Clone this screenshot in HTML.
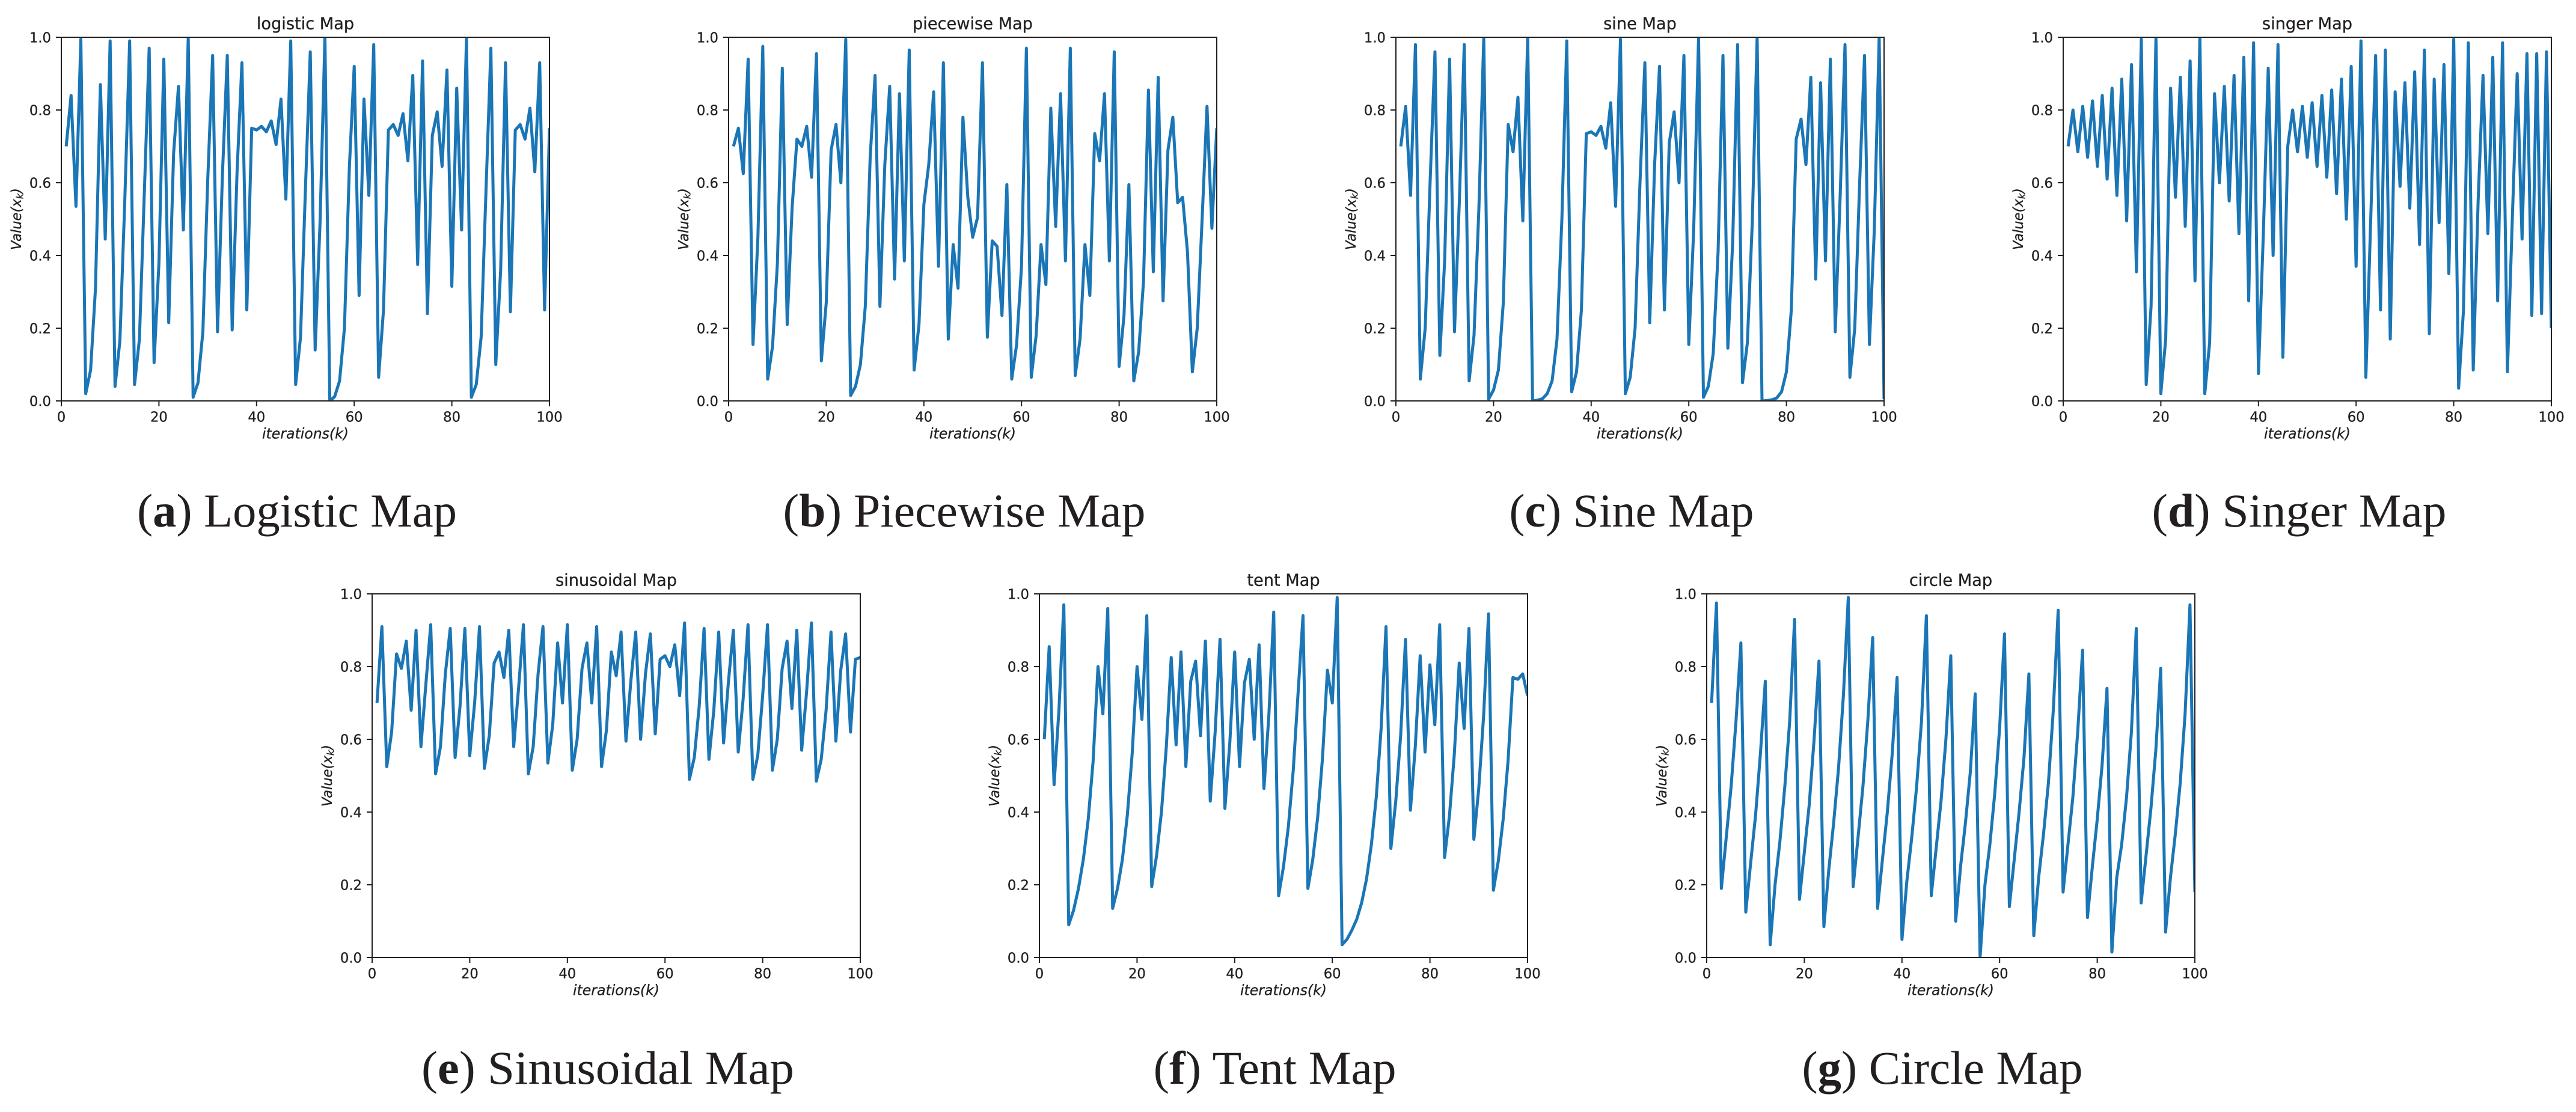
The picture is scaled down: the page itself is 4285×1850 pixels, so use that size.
<!DOCTYPE html>
<html lang="en">
<head>
<meta charset="utf-8">
<title>Chaotic Maps</title>
<style>
html,body{margin:0;padding:0;background:#fff;width:4285px;height:1850px;overflow:hidden}
svg{display:block}
.sans{font-family:"DejaVu Sans",sans-serif;fill:#231f20;stroke:#231f20;stroke-width:.3px}
.caption{font-family:"Liberation Serif",serif;fill:#231f20;font-size:78px}
</style>
</head>
<body>
<svg id="figure" xmlns="http://www.w3.org/2000/svg" width="4285" height="1850" viewBox="0 0 4285 1850"></svg>
<script>
const xTickValues = [0, 20, 40, 60, 80, 100];
const yTickValues = [0.0, 0.2, 0.4, 0.6, 0.8, 1.0];
const yTickLabels = ['0.0', '0.2', '0.4', '0.6', '0.8', '1.0'];

const logisticValues = [.70,.84,.535,.995,.02,.085,.31,.87,.445,.99,
.04,.165,.55,.99,.045,.17,.57,.97,.105,.38,
.94,.215,.68,.865,.47,1.0,.01,.05,.19,.61,
.95,.19,.62,.95,.195,.63,.93,.25,.75,.745,
.755,.74,.77,.705,.83,.555,.99,.045,.175,.58,
.96,.14,.49,1.0,.0,.012,.055,.2,.64,.92,
.29,.83,.565,.98,.065,.25,.745,.76,.73,.79,
.66,.895,.375,.935,.24,.73,.795,.645,.91,.315,
.86,.47,1.0,.01,.045,.175,.58,.97,.10,.36,
.93,.245,.745,.76,.72,.805,.63,.93,.25,.75];

const piecewiseValues = [.70,.75,.625,.94,.155,.45,.975,.06,.15,.38,
.915,.21,.53,.72,.70,.755,.615,.955,.11,.27,
.69,.76,.60,.995,.015,.04,.10,.26,.67,.895,
.26,.65,.865,.335,.845,.385,.965,.085,.21,.54,
.65,.85,.37,.93,.17,.43,.31,.78,.56,.45,
.505,.93,.175,.44,.425,.235,.595,.06,.155,.37,
.97,.065,.18,.43,.32,.805,.48,.845,.385,.97,
.07,.17,.43,.29,.735,.66,.845,.385,.96,.095,
.235,.595,.055,.135,.33,.855,.355,.89,.275,.69,
.78,.545,.56,.41,.08,.20,.50,.81,.475,.75];

const sineValues = [.70,.81,.565,.98,.06,.20,.60,.96,.125,.39,
.94,.19,.55,.98,.055,.18,.53,1.0,.005,.03,
.085,.27,.76,.685,.835,.495,1.0,.0,.002,.006,
.02,.055,.17,.50,.99,.025,.08,.25,.735,.74,
.73,.755,.695,.82,.535,.995,.02,.065,.20,.60,
.93,.215,.65,.92,.25,.71,.795,.60,.95,.155,
.47,1.0,.01,.04,.13,.41,.95,.145,.44,.98,
.05,.16,.49,1.0,.0,.001,.003,.008,.025,.08,
.25,.72,.775,.65,.89,.335,.875,.385,.94,.19,
.56,.98,.065,.20,.60,.95,.155,.47,1.0,.005];

const singerValues = [.70,.80,.685,.81,.67,.825,.645,.84,.61,.86,
.565,.885,.495,.925,.355,.995,.045,.26,1.0,.02,
.17,.86,.56,.89,.48,.935,.33,1.0,.02,.16,
.845,.60,.865,.55,.895,.46,.945,.275,.985,.075,
.46,.915,.40,.98,.12,.70,.80,.685,.81,.67,
.82,.645,.84,.615,.855,.57,.885,.50,.92,.37,
.99,.065,.50,.95,.25,.965,.17,.85,.59,.875,
.53,.905,.43,.965,.185,.885,.49,.925,.35,.995,
.035,.25,.985,.085,.55,.895,.46,.945,.275,.985,
.08,.50,.90,.445,.955,.235,.955,.24,.96,.20];

const sinusoidalValues = [.70,.91,.525,.62,.835,.795,.87,.68,.90,.58,
.75,.915,.505,.58,.78,.905,.55,.69,.905,.555,
.70,.91,.52,.61,.81,.84,.77,.90,.58,.74,
.915,.505,.58,.78,.91,.535,.64,.865,.70,.915,
.515,.60,.795,.865,.70,.91,.525,.625,.84,.775,
.895,.595,.76,.895,.60,.78,.89,.615,.82,.83,
.80,.86,.72,.92,.49,.55,.69,.905,.545,.68,
.895,.59,.76,.90,.565,.71,.915,.49,.555,.72,
.915,.515,.60,.795,.87,.685,.90,.57,.73,.92,
.485,.545,.68,.895,.595,.79,.89,.62,.82,.825];

const tentValues = [.60,.855,.475,.68,.97,.09,.13,.19,.27,.38,
.54,.80,.67,.96,.135,.19,.27,.39,.56,.80,
.655,.94,.195,.28,.40,.58,.825,.585,.84,.525,
.76,.815,.61,.87,.43,.62,.875,.41,.59,.84,
.525,.755,.82,.60,.86,.465,.665,.95,.17,.25,
.36,.515,.73,.94,.19,.27,.385,.55,.79,.70,
.99,.035,.05,.075,.105,.15,.215,.31,.44,.63,
.91,.30,.43,.61,.875,.405,.58,.83,.565,.805,
.64,.915,.275,.39,.56,.81,.63,.905,.325,.465,
.665,.945,.185,.265,.38,.54,.77,.765,.78,.72];

const circleValues = [.70,.975,.19,.33,.47,.65,.865,.125,.26,.39,
.56,.76,.035,.20,.32,.47,.65,.93,.16,.29,
.42,.60,.815,.085,.24,.37,.52,.72,.99,.195,
.33,.47,.65,.88,.135,.27,.40,.56,.77,.05,
.21,.33,.47,.65,.94,.17,.30,.43,.60,.83,
.10,.25,.37,.51,.725,.0,.20,.31,.45,.63,
.89,.14,.27,.40,.55,.78,.06,.22,.34,.48,
.68,.955,.18,.31,.44,.62,.845,.11,.25,.38,
.53,.74,.015,.22,.31,.44,.62,.905,.15,.28,
.41,.57,.795,.07,.22,.34,.48,.67,.97,.18];

const panels = [
  {key:'logistic',  title:'logistic Map',  letter:'a', label:' Logistic Map',  values:logisticValues,   left:102,  top:62,  capX:494,    capW:532, capY:876},
  {key:'piecewise', title:'piecewise Map', letter:'b', label:' Piecewise Map', values:piecewiseValues,  left:1212, top:62,  capX:1604,   capW:603, capY:876},
  {key:'sine',      title:'sine Map',      letter:'c', label:' Sine Map',      values:sineValues,       left:2322, top:62,  capX:2714,   capW:407, capY:876},
  {key:'singer',    title:'singer Map',    letter:'d', label:' Singer Map',    values:singerValues,     left:3432, top:62,  capX:3824.5, capW:490, capY:876},
  {key:'sinusoidal',title:'sinusoidal Map',letter:'e', label:' Sinusoidal Map',values:sinusoidalValues, left:619,  top:988, capX:1011,   capW:620, capY:1803},
  {key:'tent',      title:'tent Map',      letter:'f', label:' Tent Map',      values:tentValues,       left:1729, top:988, capX:2120.6, capW:404, capY:1803},
  {key:'circle',    title:'circle Map',    letter:'g', label:' Circle Map',    values:circleValues,     left:2839, top:988, capX:3231,   capW:467, capY:1803}
];

const PLOT_W = 812, PLOT_H = 605;
const AXIS = '#231f20', LINE = '#1a76b6';
const NS = 'http://www.w3.org/2000/svg';
const svg = document.getElementById('figure');

function mk(tag, parent) {
  const el = document.createElementNS(NS, tag);
  parent.appendChild(el);
  return el;
}
function xScale(p, v) { return p.left + (v / 100) * PLOT_W; }
function yScale(p, v) { return p.top + PLOT_H - v * PLOT_H; }

panels.forEach(function (p) {
  const g = mk('g', svg);
  
  

  const clip = mk('clipPath', g);
  clip.setAttribute('id', 'clip-' + p.key);
  const cr = mk('rect', clip);
  cr.setAttribute('x', p.left);
  cr.setAttribute('y', p.top);
  cr.setAttribute('width', PLOT_W);
  cr.setAttribute('height', PLOT_H);

  const line = mk('polyline', g);
  
  
  line.setAttribute('points', p.values.map(function (v, i) {
    return xScale(p, i + 1).toFixed(2) + ',' + yScale(p, v).toFixed(2);
  }).join(' '));
  line.setAttribute('fill', 'none');
  line.setAttribute('stroke', LINE);
  line.setAttribute('stroke-width', '5');
  line.setAttribute('stroke-linejoin', 'round');
  line.setAttribute('clip-path', 'url(#clip-' + p.key + ')');

  const frame = mk('rect', g);
  
  
  frame.setAttribute('x', p.left);
  frame.setAttribute('y', p.top);
  frame.setAttribute('width', PLOT_W);
  frame.setAttribute('height', PLOT_H);
  frame.setAttribute('fill', 'none');
  frame.setAttribute('stroke', AXIS);
  frame.setAttribute('stroke-width', '2');

  xTickValues.forEach(function (t) {
    const x = xScale(p, t);
    const tick = mk('line', g);
    
    
    tick.setAttribute('x1', x);
    tick.setAttribute('x2', x);
    tick.setAttribute('y1', p.top + PLOT_H);
    tick.setAttribute('y2', p.top + PLOT_H + 9);
    tick.setAttribute('stroke', AXIS);
    tick.setAttribute('stroke-width', '2');
    const lab = mk('text', g);
    
    
    lab.setAttribute('class', 'sans');
    lab.setAttribute('x', x);
    lab.setAttribute('y', p.top + PLOT_H + 34.7);
    lab.setAttribute('font-size', '22.7');
    lab.setAttribute('text-anchor', 'middle');
    lab.textContent = String(t);
  });

  yTickValues.forEach(function (t, i) {
    const y = yScale(p, t);
    const tick = mk('line', g);
    
    
    tick.setAttribute('x1', p.left - 9);
    tick.setAttribute('x2', p.left);
    tick.setAttribute('y1', y);
    tick.setAttribute('y2', y);
    tick.setAttribute('stroke', AXIS);
    tick.setAttribute('stroke-width', '2');
    const lab = mk('text', g);
    
    
    lab.setAttribute('class', 'sans');
    lab.setAttribute('x', p.left - 17);
    lab.setAttribute('y', y + 8.3);
    lab.setAttribute('font-size', '22.7');
    lab.setAttribute('text-anchor', 'end');
    lab.textContent = yTickLabels[i];
  });

  const title = mk('text', g);
  
  
  title.setAttribute('class', 'sans');
  title.setAttribute('x', p.left + PLOT_W / 2);
  title.setAttribute('y', p.top - 13.6);
  title.setAttribute('font-size', '27.2');
  title.setAttribute('text-anchor', 'middle');
  title.textContent = p.title;

  const xl = mk('text', g);
  
  
  xl.setAttribute('class', 'sans');
  xl.setAttribute('x', p.left + PLOT_W / 2);
  xl.setAttribute('y', p.top + PLOT_H + 62.5);
  xl.setAttribute('font-size', '23.6');
  xl.setAttribute('font-style', 'oblique');
  xl.setAttribute('text-anchor', 'middle');
  xl.textContent = 'iterations(k)';

  const yl = mk('text', g);
  
  
  yl.setAttribute('class', 'sans');
  yl.setAttribute('font-size', '22.7');
  yl.setAttribute('font-style', 'oblique');
  yl.setAttribute('text-anchor', 'middle');
  yl.setAttribute('transform', 'translate(' + (p.left - 67) + ',' + (p.top + PLOT_H / 2) + ') rotate(-90)');
  const y1 = mk('tspan', yl);
  y1.textContent = 'Value(x';
  const y2 = mk('tspan', yl);
  y2.setAttribute('font-size', '16');
  y2.setAttribute('dy', '3.5');
  y2.textContent = 'k';
  const y3 = mk('tspan', yl);
  y3.setAttribute('dy', '-3.5');
  y3.textContent = ')';

  const cap = mk('text', svg);
  
  
  cap.setAttribute('class', 'caption');
  cap.setAttribute('x', p.capX);
  cap.setAttribute('y', p.capY);
  cap.setAttribute('text-anchor', 'middle');
  cap.setAttribute('textLength', p.capW);
  cap.setAttribute('lengthAdjust', 'spacingAndGlyphs');
  const c1 = mk('tspan', cap);
  c1.textContent = '(';
  const c2 = mk('tspan', cap);
  c2.setAttribute('font-weight', 'bold');
  c2.textContent = p.letter;
  const c3 = mk('tspan', cap);
  c3.textContent = ')' + p.label;
});
</script>
</body>
</html>
